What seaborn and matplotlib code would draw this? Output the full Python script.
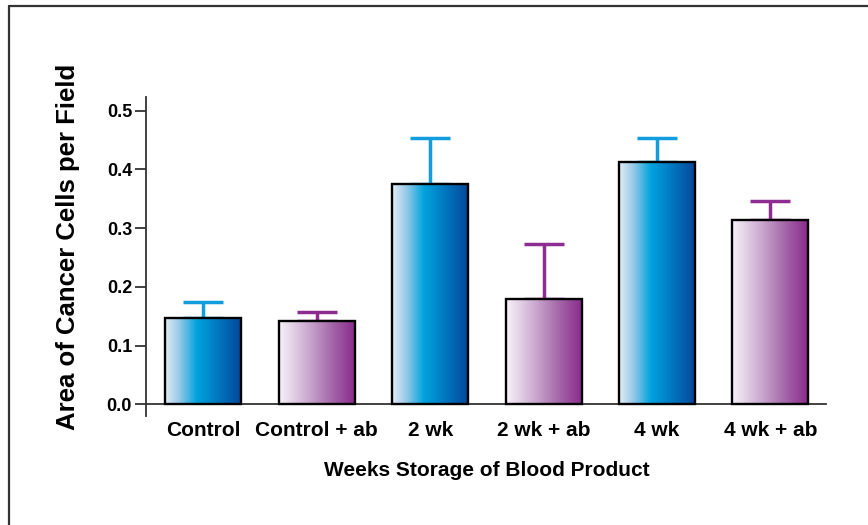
import numpy as np
import pandas as pd
import matplotlib
matplotlib.use("Agg")
import matplotlib.pyplot as plt
import seaborn as sns
from matplotlib.colors import LinearSegmentedColormap
from matplotlib.lines import Line2D

# Mean area of cancer cells per field, with the upper error (SEM) for each group
categories = ["Control", "Control + ab", "2 wk", "2 wk + ab", "4 wk", "4 wk + ab"]
means = [0.146, 0.142, 0.375, 0.179, 0.413, 0.313]
errors = [0.028, 0.015, 0.079, 0.094, 0.041, 0.033]
groups = ["plain", "ab", "plain", "ab", "plain", "ab"]
y_ticks = [0.0, 0.1, 0.2, 0.3, 0.4, 0.5]

sns.set_style("white")
plt.rcParams["font.family"] = ["Liberation Sans", "DejaVu Sans"]
plt.rcParams["font.weight"] = "bold"
plt.rcParams["text.color"] = "black"
plt.rcParams["xtick.labelcolor"] = "black"
plt.rcParams["ytick.labelcolor"] = "black"

ramps = {
    "plain": LinearSegmentedColormap.from_list(
        "plain", [(0.0, "#e2edf6"), (0.18, "#9ccbe8"), (0.42, "#00a3de"),
                  (0.70, "#0077c0"), (1.0, "#06489a")]),
    "ab": LinearSegmentedColormap.from_list(
        "ab", [(0.0, "#f8f3f9"), (0.35, "#cfb0d4"), (0.70, "#a467a8"),
               (1.0, "#8a2b8d")]),
}
err_colors = {"plain": "#129ddc", "ab": "#8d2c91"}

fig = plt.figure(figsize=(8.68, 5.25), dpi=100)
ax = fig.add_axes([146 / 868, 1 - 416 / 525, 680 / 868, 319 / 525])

df = pd.DataFrame({"group": categories, "value": means})
sns.barplot(data=df, x="group", y="value", ax=ax, width=0.67, errorbar=None,
            color="white", edgecolor="black", linewidth=1.7, zorder=3)

# horizontal colour ramp inside each bar
ramp = np.linspace(0, 1, 256).reshape(1, -1)
for patch, g in zip(ax.patches, groups):
    x0, y0 = patch.get_x(), patch.get_y()
    w, h = patch.get_width(), patch.get_height()
    im = ax.imshow(ramp, cmap=ramps[g], aspect="auto",
                   extent=[x0, x0 + w, y0, y0 + h], zorder=2,
                   interpolation="bicubic")
    im.set_clip_path(patch)
    patch.set_facecolor("none")

# upper error bars only
for i, (m, e, g) in enumerate(zip(means, errors, groups)):
    ax.errorbar(i, m, yerr=[[0], [e]], fmt="none", ecolor=err_colors[g],
                elinewidth=2.5, capsize=14.4, capthick=2.5, zorder=1)

ax.set_xlim(-0.505, 5.49)
ax.set_ylim(-0.02, 0.523)
ax.set_yticks(y_ticks)
ax.set_yticklabels([f"{t:.1f}" for t in y_ticks])
ax.set_xticks(range(len(categories)))
ax.set_xticklabels(categories)
ax.set_xlabel("")
ax.set_ylabel("")

for side in ("top", "right"):
    ax.spines[side].set_visible(False)
ax.spines["bottom"].set_position(("data", 0))
for side in ("left", "bottom"):
    ax.spines[side].set_color("#333333")
    ax.spines[side].set_linewidth(1.3)
ax.tick_params(axis="y", direction="out", length=8, width=1.3, color="#333333",
               pad=2, left=True, labelsize=13, labelcolor="black")
ax.tick_params(axis="x", length=0, pad=12, labelsize=15, labelcolor="black")
for lbl in ax.get_xticklabels() + ax.get_yticklabels():
    lbl.set_fontweight("bold")

fig.text(68 / 868, 1 - 247 / 525, "Area of Cancer Cells per Field",
         rotation=90, ha="center", va="center", fontsize=18.5,
         fontweight="bold", color="black")
fig.text(487 / 868, 1 - 470 / 525, "Weeks Storage of Blood Product",
         ha="center", va="center", fontsize=15, fontweight="bold", color="black")

# frame drawn around the figure (only top and left edges fall inside)
fig.add_artist(Line2D([8.5 / 868, 1.0], [1 - 5.5 / 525, 1 - 5.5 / 525],
                      transform=fig.transFigure, color="#333333", lw=1.6))
fig.add_artist(Line2D([8.5 / 868, 8.5 / 868], [0.0, 1 - 5.5 / 525],
                      transform=fig.transFigure, color="#333333", lw=1.6))

fig.savefig("out.png", dpi=100, facecolor="white")
